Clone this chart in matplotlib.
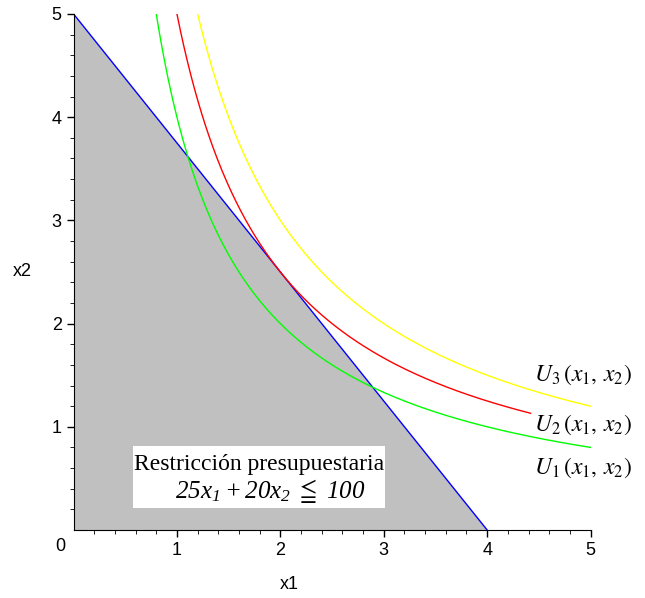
import matplotlib.pyplot as plt
import matplotlib.patches as mpatches
import numpy as np

plt.rcParams['mathtext.fontset'] = 'stix'
# italic serif for the constraint formula (used through math_fontfamily='custom')
plt.rcParams['mathtext.rm'] = 'Liberation Serif:italic'
plt.rcParams['mathtext.it'] = 'Liberation Serif:italic'
plt.rcParams['mathtext.fallback'] = 'stix'

# budget constraint: 25*x1 + 20*x2 <= 100
budget_coef = [25, 20]
budget_total = 100

# indifference curves U = x1*x2 = level, drawn over [start, end]
curve_names = ['U_1', 'U_2', 'U_3']
curve_levels = [4, 5, 6]
curve_start = [0.8, 1.0, 1.2]
curve_end = [5.0, 4.42, 5.0]
curve_colors = ['#00ff00', '#ff0000', '#ffff00']
label_y = [0.60, 1.02, 1.5]

ticks = [1, 2, 3, 4, 5]

fig = plt.figure(figsize=(6.45, 5.98), dpi=100)
ax = fig.add_axes([0.114, 0.1137, 0.8016, 0.863])

# budget line and shaded region
x_int = budget_total / budget_coef[0]
bx = np.array([0, x_int])
by = (budget_total - budget_coef[0] * bx) / budget_coef[1]
ax.fill_between(bx, 0, by, color='#c0c0c0', lw=0)
ax.plot(bx, by, color='#0000ff', lw=1)

for name, k, a, b, c, ly in zip(curve_names, curve_levels, curve_start,
                                curve_end, curve_colors, label_y):
    xs = np.linspace(a, b, 300)
    ax.plot(xs, k / xs, color=c, lw=1)
    ax.text(4.45, ly, r'$%s\,(x_1,\, x_2)$' % name, fontsize=17,
            ha='left', va='center', clip_on=False)

# white label box
ax.add_patch(mpatches.Rectangle((0.575, 0.213), 2.435, 0.6, facecolor='white',
                                edgecolor='none', zorder=3))
ax.text(1.79, 0.63, 'Restricción presupuestaria',
        family='Liberation Serif', fontsize=17, ha='center', va='center',
        zorder=4)
ax.text(1.9, 0.38, r'$25x_1 + 20x_2\ \leqq\ 100$', math_fontfamily='custom',
        fontsize=18, ha='center', va='center', zorder=4)

ax.set_xlim(0, 5)
ax.set_ylim(0, 5)
ax.spines['top'].set_visible(False)
ax.spines['right'].set_visible(False)
ax.set_xticks(ticks)
ax.set_yticks(ticks)
ax.set_xticks(np.arange(0.2, 5.01, 0.2), minor=True)
ax.set_yticks(np.arange(0.2, 5.01, 0.2), minor=True)
ax.tick_params(labelsize=13, length=5, width=1)
ax.tick_params(which='minor', length=3)
for lab in ax.get_xticklabels() + ax.get_yticklabels():
    lab.set_family('Liberation Sans')
ax.text(-0.08, -0.08, '0', family='Liberation Sans', fontsize=13,
        ha='right', va='top')

ax.text(2.09, -0.53, 'x1', family='Liberation Sans', fontsize=13,
        ha='center', va='center', clip_on=False)
ax.text(-0.5, 2.5, 'x2', family='Liberation Sans', fontsize=13,
        ha='center', va='center', clip_on=False)

fig.savefig('out.png', dpi=100)
